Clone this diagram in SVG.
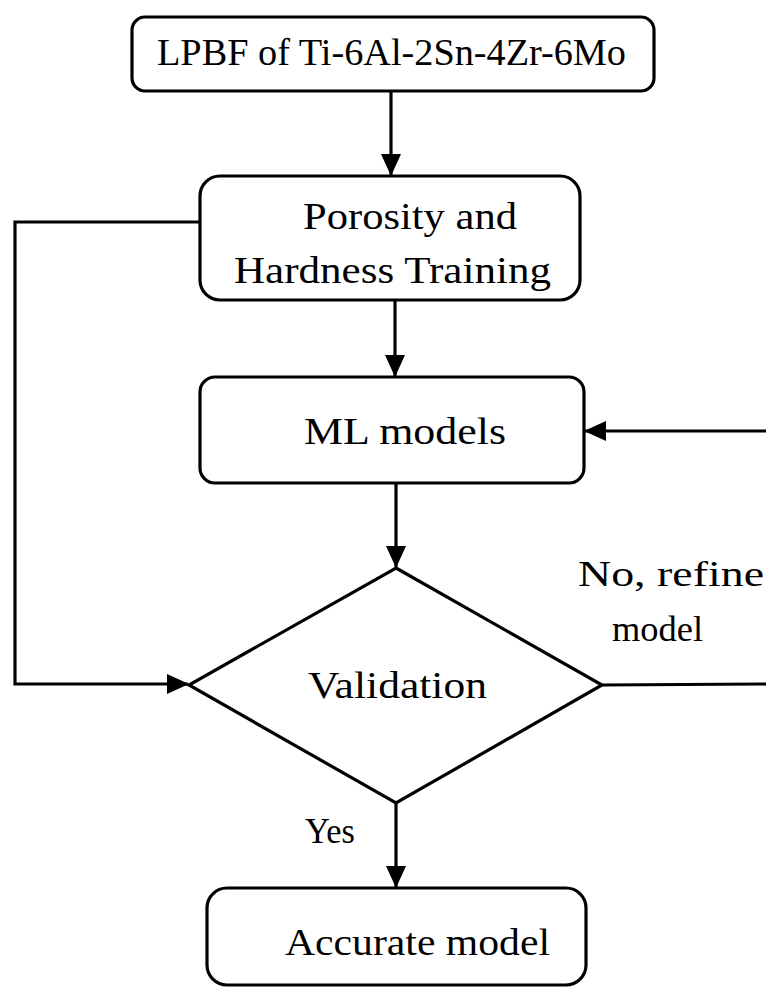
<svg xmlns="http://www.w3.org/2000/svg" width="766" height="990" viewBox="0 0 766 990">
<style>
.box{fill:#fff;stroke:#000;stroke-width:3.2}
.t{font-family:"Liberation Serif","Times New Roman",serif;font-size:38px;fill:#000}
.s{font-size:36px}
.c{fill:none;stroke:#000;stroke-width:3.2}
</style>
<defs>
<marker id="ah" markerUnits="userSpaceOnUse" markerWidth="22" markerHeight="20" viewBox="0 0 22 20" refX="21" refY="10" orient="auto">
<path d="M0,0 L22,10 L0,20 Z" fill="#000"/>
</marker>
</defs>
<rect width="766" height="990" fill="#fff"/>
<g id="connectors">
<path class="c" d="M391,91 V175" marker-end="url(#ah)"/>
<path class="c" d="M395,300 V376" marker-end="url(#ah)"/>
<path class="c" d="M396,483 V567" marker-end="url(#ah)"/>
<path class="c" d="M396,803 V887" marker-end="url(#ah)"/>
<path class="c" d="M200,222 H15 V684 H188" marker-end="url(#ah)"/>
<path class="c" d="M602,685 L768,684 V431 H585" marker-end="url(#ah)"/>
</g>
<g id="node-lpbf">
<rect class="box" x="132" y="17" width="522" height="74" rx="13"/>
<text class="t" x="157" y="65" textLength="469" lengthAdjust="spacingAndGlyphs">LPBF of Ti-6Al-2Sn-4Zr-6Mo</text>
</g>
<g id="node-training">
<rect class="box" x="200" y="176" width="380" height="124" rx="20"/>
<text class="t" x="303" y="229" textLength="214" lengthAdjust="spacingAndGlyphs">Porosity and</text>
<text class="t" x="234" y="283" textLength="317" lengthAdjust="spacingAndGlyphs">Hardness Training</text>
</g>
<g id="node-ml">
<rect class="box" x="200" y="377" width="384" height="106" rx="15"/>
<text class="t" x="304" y="444" textLength="202" lengthAdjust="spacingAndGlyphs">ML models</text>
</g>
<g id="node-validation">
<polygon class="box" points="396,568 602,685 396,803 189,685"/>
<text class="t" x="308" y="698" textLength="179" lengthAdjust="spacingAndGlyphs">Validation</text>
</g>
<g id="node-accurate">
<rect class="box" x="207" y="888" width="379" height="97" rx="20"/>
<text class="t" x="285" y="955" textLength="265" lengthAdjust="spacingAndGlyphs">Accurate model</text>
</g>
<g id="labels">
<text class="t s" x="578" y="586" textLength="186" lengthAdjust="spacingAndGlyphs">No, refine</text>
<text class="t s" x="612" y="641" textLength="91" lengthAdjust="spacingAndGlyphs">model</text>
<text class="t s" x="305" y="843" textLength="50" lengthAdjust="spacingAndGlyphs">Yes</text>
</g>
</svg>
